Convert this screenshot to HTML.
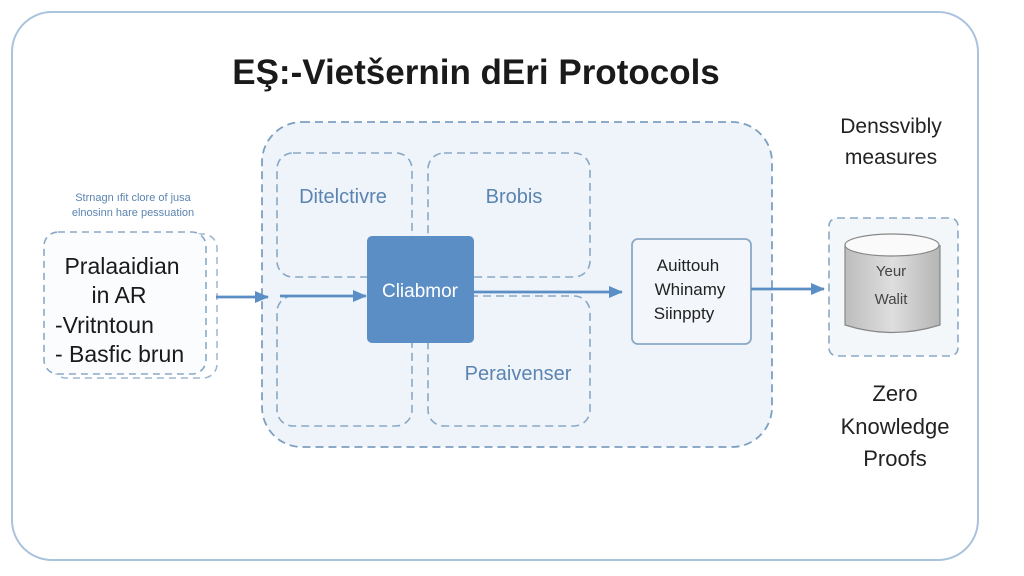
<!DOCTYPE html>
<html><head><meta charset="utf-8"><style>
html,body{margin:0;padding:0;background:#fff;width:1024px;height:576px;overflow:hidden}
text{font-family:"Liberation Sans",sans-serif}
</style></head><body>
<svg width="1024" height="576" viewBox="0 0 1024 576" xmlns="http://www.w3.org/2000/svg">
<defs>
<marker id="ah" markerWidth="14" markerHeight="12" refX="13" refY="6" orient="auto" markerUnits="userSpaceOnUse">
<path d="M0,0 L14,6 L0,12 Z" fill="#5b8ec4"/></marker>
<linearGradient id="cyl" x1="0" x2="1"><stop offset="0" stop-color="#bdbdbd"/><stop offset="0.5" stop-color="#dedede"/><stop offset="1" stop-color="#b5b5b5"/></linearGradient>
</defs>
<rect x="12" y="12" width="966" height="548" rx="40" fill="#fff" stroke="#a9c3dc" stroke-width="2"/>
<text x="476" y="84" font-size="35" font-weight="bold" text-anchor="middle" fill="#1a1a1a">EŞ:-Vietšernin dEri Protocols</text>
<rect x="262" y="122" width="510" height="325" rx="40" fill="#eef4fa" stroke="#7d9fc0" stroke-width="1.8" stroke-dasharray="8,5"/>
<rect x="277" y="153" width="135" height="124" rx="16" fill="none" stroke="#8aa8c6" stroke-width="1.6" stroke-dasharray="8,5"/>
<rect x="428" y="153" width="162" height="124" rx="16" fill="none" stroke="#8aa8c6" stroke-width="1.6" stroke-dasharray="8,5"/>
<rect x="277" y="296" width="135" height="130" rx="16" fill="none" stroke="#8aa8c6" stroke-width="1.6" stroke-dasharray="8,5"/>
<rect x="428" y="296" width="162" height="130" rx="16" fill="none" stroke="#8aa8c6" stroke-width="1.6" stroke-dasharray="8,5"/>
<text x="343" y="203" font-size="20" text-anchor="middle" fill="#5b84b0">Ditelctivre</text>
<text x="514" y="203" font-size="20" text-anchor="middle" fill="#5b84b0">Brobis</text>
<text x="518" y="380" font-size="20" text-anchor="middle" fill="#5b84b0">Peraivenser</text>
<line x1="280" y1="296" x2="366" y2="296" stroke="#5b8ec4" stroke-width="2.8" marker-end="url(#ah)"/>
<rect x="367" y="236" width="107" height="107" rx="5" fill="#5b8ec4"/>
<text x="420" y="297" font-size="19" text-anchor="middle" fill="#fff">Cliabmor</text>
<line x1="474" y1="292" x2="622" y2="292" stroke="#5b8ec4" stroke-width="2.8" marker-end="url(#ah)"/>
<rect x="632" y="239" width="119" height="105" rx="6" fill="#f3f7fb" stroke="#8aa8c6" stroke-width="1.8"/>
<text x="688" y="271" font-size="17" text-anchor="middle" fill="#222">Auittouh</text>
<text x="690" y="295" font-size="17" text-anchor="middle" fill="#222">Whinamy</text>
<text x="684" y="319" font-size="17" text-anchor="middle" fill="#222">Siinppty</text>
<line x1="751" y1="289" x2="824" y2="289" stroke="#5b8ec4" stroke-width="2.8" marker-end="url(#ah)"/>
<rect x="829" y="218" width="129" height="138" rx="8" fill="#f4f7fa" stroke="#8aa8c6" stroke-width="1.6" stroke-dasharray="8,5"/>
<path d="M845,245 L845,325 Q892,340 940,325 L940,245" fill="url(#cyl)" stroke="#888" stroke-width="1.2"/>
<ellipse cx="892" cy="245" rx="47" ry="11" fill="#fafafa" stroke="#888" stroke-width="1.2"/>
<text x="891" y="276" font-size="15" text-anchor="middle" fill="#444">Yeur</text>
<text x="891" y="304" font-size="15" text-anchor="middle" fill="#444">Walit</text>
<text x="891" y="133" font-size="21" text-anchor="middle" fill="#222">Denssvibly</text>
<text x="891" y="164" font-size="21" text-anchor="middle" fill="#222">measures</text>
<text x="895" y="401" font-size="22" text-anchor="middle" fill="#222">Zero</text>
<text x="895" y="434" font-size="22" text-anchor="middle" fill="#222">Knowledge</text>
<text x="895" y="466" font-size="22" text-anchor="middle" fill="#222">Proofs</text>
<text x="133" y="201" font-size="11" text-anchor="middle" fill="#5b84b0">Strnagn ıfit clore of jusa</text>
<text x="133" y="216" font-size="11" text-anchor="middle" fill="#5b84b0">elnosinn hare pessuation</text>
<rect x="52" y="234" width="165" height="144" rx="14" fill="none" stroke="#9db5cf" stroke-width="1.5" stroke-dasharray="7,5"/>
<rect x="44" y="232" width="162" height="142" rx="14" fill="#fbfcfe" stroke="#8aa8c6" stroke-width="1.6" stroke-dasharray="7,5"/>
<text x="122" y="274" font-size="23" text-anchor="middle" fill="#1a1a1a">Pralaaidian</text>
<text x="119" y="303" font-size="23" text-anchor="middle" fill="#1a1a1a">in AR</text>
<text x="55" y="333" font-size="23" fill="#1a1a1a">-Vritntoun</text>
<text x="55" y="362" font-size="23" fill="#1a1a1a">- Basfic brun</text>
<line x1="216" y1="297" x2="268" y2="297" stroke="#5b8ec4" stroke-width="2.8" marker-end="url(#ah)"/>
</svg>
</body></html>
